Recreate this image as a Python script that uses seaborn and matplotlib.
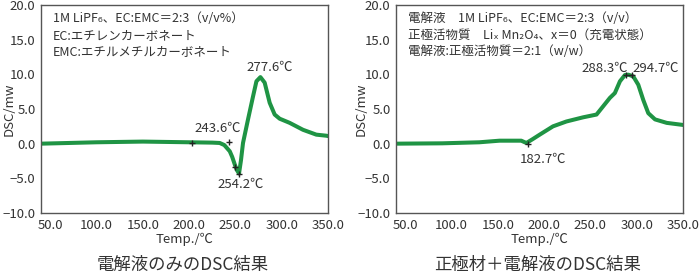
import numpy as np
import pandas as pd
import matplotlib
matplotlib.use("Agg")
import matplotlib.pyplot as plt
import seaborn as sns

# ---- data ----
left_temp = [40, 70, 100, 150, 200, 225, 233, 238, 243.9, 246.5, 249.3, 251.5, 253.9, 256, 258.2,
             263.6, 269, 272.7, 277, 281.6, 287, 292.4, 297.8, 308.6, 323, 337.4, 348, 350]
left_dsc = [0.0, 0.1, 0.2, 0.3, 0.2, 0.15, 0.1, -0.2, -1.1, -1.9, -3.0, -3.8, -4.3, -2.4, 0.1,
            3.5, 6.8, 9.0, 9.6, 8.8, 5.9, 4.2, 3.6, 3.0, 2.0, 1.3, 1.15, 1.1]
left_mark_t = [203.0, 243.6, 249.5, 254.2]
left_mark_v = [0.1, 0.3, -3.3, -4.4]

right_temp = [40, 90, 130, 151.8, 175.3, 180.8, 187, 195.2, 209.6, 224.1, 242.1, 256.6, 263.8,
              271, 276.4, 281.9, 287.3, 291, 296.3, 301.7, 307.1, 312.5, 319.8, 332.4, 350]
right_dsc = [0.0, 0.05, 0.2, 0.43, 0.43, 0.1, 0.6, 1.3, 2.5, 3.2, 3.8, 4.2, 5.4,
             6.6, 7.3, 9.0, 9.9, 9.95, 9.7, 8.5, 6.3, 4.4, 3.5, 3.0, 2.7]
right_mark_t = [182.7, 288.3, 294.7]
right_mark_v = [0.0, 9.85, 9.85]

x_ticks = [50, 100, 150, 200, 250, 300, 350]
y_ticks = [-10, -5, 0, 5, 10, 15, 20]

left_notes = ["1M LiPF₆、EC:EMC＝2:3（v/v%）",
              "EC:エチレンカーボネート",
              "EMC:エチルメチルカーボネート"]
right_notes = ["電解液　1M LiPF₆、EC:EMC＝2:3（v/v）",
               "正極活物質　Liₓ Mn₂O₄、x＝0（充電状態）",
               "電解液:正極活物質＝2:1（w/w）"]
titles = ["電解液のみのDSC結果", "正極材＋電解液のDSC結果"]

# ---- style ----
sns.set_theme(style="white")
plt.rcParams['font.family'] = ['Noto Sans CJK JP', 'DejaVu Sans']
plt.rcParams['axes.unicode_minus'] = True

green = "#1f9444"
txt = "#333333"
spine_c = "#555555"

fig = plt.figure(figsize=(7, 2.75), dpi=100)
axL = fig.add_axes([41/700, 1-213/275, 287/700, 208/275])
axR = fig.add_axes([396/700, 1-213/275, 287/700, 208/275])

def style_ax(ax, ylab_x):
    ax.set_xlim(40, 350)
    ax.set_ylim(-10, 20)
    ax.set_xticks(x_ticks)
    ax.set_xticklabels([f"{v:.1f}" for v in x_ticks])
    ax.set_yticks(y_ticks)
    ax.set_yticklabels([f"{v:.1f}".replace("-", "−") for v in y_ticks])
    ax.tick_params(axis='x', direction='in', length=5, width=0.8, color=spine_c,
                   labelsize=9.5, labelcolor=txt, pad=4)
    ax.tick_params(axis='y', direction='out', length=3, width=0.8, color=spine_c,
                   labelsize=9.5, labelcolor=txt, pad=1)
    for s in ax.spines.values():
        s.set_color(spine_c)
        s.set_linewidth(1.0)
    ax.set_xlabel("Temp./℃", fontsize=9.5, color=txt, labelpad=1)
    ax.set_ylabel("DSC/mw", fontsize=9.5, color=txt)
    ax.yaxis.set_label_coords(ylab_x, 0.5)

dfL = pd.DataFrame({"temp": left_temp, "dsc": left_dsc})
dfR = pd.DataFrame({"temp": right_temp, "dsc": right_dsc})

sns.lineplot(data=dfL, x="temp", y="dsc", ax=axL, color=green, linewidth=2.9, sort=False)
sns.lineplot(data=dfR, x="temp", y="dsc", ax=axR, color=green, linewidth=2.9, sort=False)

axL.plot(left_mark_t, left_mark_v, linestyle="none", marker="+", color="#222222",
         markersize=5, markeredgewidth=1.0, zorder=5)
axR.plot(right_mark_t, right_mark_v, linestyle="none", marker="+", color="#222222",
         markersize=5, markeredgewidth=1.0, zorder=5)
axR.plot(right_mark_t[1:], right_mark_v[1:], color="#222222", linewidth=0.8, zorder=5)

style_ax(axL, -0.088)
style_ax(axR, -0.10)

for ax, notes in ((axL, left_notes), (axR, right_notes)):
    for i, line in enumerate(notes):
        ax.text(0.042, 0.933 - i*0.078, line, transform=ax.transAxes, fontsize=9,
                color=txt, ha="left", va="center")

fs = 9.5
axL.text(left_mark_t[3] + 33, 11.0, "277.6℃", fontsize=fs, color=txt, ha="center", va="center")
axL.text(left_mark_t[1] - 13, 2.2, "243.6℃", fontsize=fs, color=txt, ha="center", va="center")
axL.text(left_mark_t[3] + 1.5, -5.9, "254.2℃", fontsize=fs, color=txt, ha="center", va="center")
axR.text(right_mark_t[1] + 2.2, 10.8, "288.3℃", fontsize=fs, color=txt, ha="right", va="center")
axR.text(right_mark_t[2] + 1.2, 10.8, "294.7℃", fontsize=fs, color=txt, ha="left", va="center")
axR.text(right_mark_t[0] + 15.7, -2.2, "182.7℃", fontsize=fs, color=txt, ha="center", va="center")

fig.text(183/700, 1-265/275, titles[0], fontsize=12.5, color=txt, ha="center", va="center")
fig.text(538/700, 1-265/275, titles[1], fontsize=12.5, color=txt, ha="center", va="center")

fig.savefig("out.png", dpi=100)
